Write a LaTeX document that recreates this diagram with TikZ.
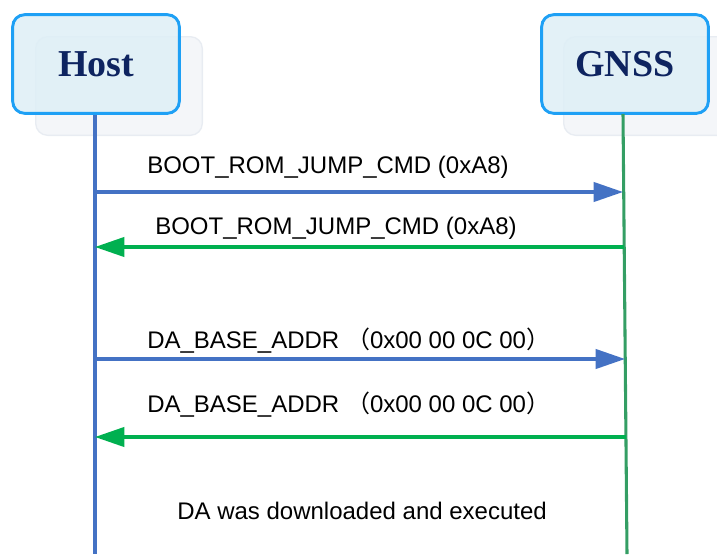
\documentclass[tikz,border=0pt]{standalone}
\usepackage{fontspec}
\setmainfont{Liberation Sans}
\newfontfamily\titlefont{Liberation Serif}
\newfontfamily\cjkfont{Noto Sans CJK SC}
\usepackage{tikz}
\usetikzlibrary{arrows.meta,positioning}
\definecolor{boxblue}{RGB}{30,160,245}
\definecolor{boxfill}{RGB}{222,239,246}
\definecolor{shadefill}{RGB}{244,246,249}
\definecolor{shadeline}{RGB}{232,236,242}
\definecolor{titlenavy}{RGB}{14,36,96}
\definecolor{hostblue}{RGB}{68,114,196}
\definecolor{gnssgreen}{RGB}{52,158,100}
\definecolor{replygreen}{RGB}{0,176,80}
\newcommand{\lpar}{{\cjkfont （}}
\newcommand{\rpar}{{\cjkfont ）}}

\begin{document}
\begin{tikzpicture}[
        x=0.75pt, y=-0.75pt,
        font=\fontsize{18}{21}\selectfont,
        actor/.style={rectangle, rounded corners=9pt, draw=boxblue, line width=2.2pt, fill=boxfill, fill opacity=0.85, text opacity=1,
            minimum width=125pt, minimum height=74pt, font=\titlefont\bfseries\fontsize{28.5}{32}\selectfont, text=titlenavy},
        actorshade/.style={rectangle, rounded corners=9pt, draw=shadeline, line width=1pt, fill=shadefill, minimum width=125pt, minimum height=74pt},
        life/.style={line width=2.3pt},
        msg/.style={-{Triangle[length=22pt,width=14.5pt]}, line width=2.3pt},
        lbl/.style={anchor=west, inner sep=0pt}
    ]
        \useasboundingbox (0,0) rectangle (717,554);

        % shadows behind the boxes
        \node[actorshade] (hostshade) at (119,86) {};
        \node[actorshade] (gnssshade) at (647,86) {};
        \node[actor] (host) at (96,64) {Host};
        \node[actor] (gnss) at (625,64) {GNSS};

        % lifelines
        \coordinate (hostend) at (95,554);
        \coordinate (gnsstop) at (623,114);
        \coordinate (gnssend) at (627,554);
        \draw[life, hostblue] (host.south -| hostend) -- (hostend);
        \draw[life, gnssgreen] (gnsstop) -- (gnssend);

        % message ends
        \coordinate (h1) at (95,192);  \coordinate (g1) at (623,192);
        \coordinate (h2) at (95,247);  \coordinate (g2) at (624,247);
        \coordinate (h3) at (95,359);  \coordinate (g3) at (625,359);
        \coordinate (h4) at (95,437);  \coordinate (g4) at (626,437);

        \draw[msg, hostblue] (h1) -- (g1);
        \node[lbl] (m1) at (147,167) {BOOT\_ROM\_JUMP\_CMD (0xA8)};
        \draw[msg, replygreen] (g2) -- (h2);
        \node[lbl] (m2) at (155,228) {BOOT\_ROM\_JUMP\_CMD (0xA8)};
        \draw[msg, hostblue] (h3) -- (g3);
        \node[lbl] (m3) at (147,341) {DA\_BASE\_ADDR \lpar 0x00 00 0C 00\rpar};
        \draw[msg, replygreen] (g4) -- (h4);
        \node[lbl] (m4) at (147,405) {DA\_BASE\_ADDR \lpar 0x00 00 0C 00\rpar};

        \node[lbl] (done) at (177,511) {DA was downloaded and executed};
    \end{tikzpicture}
\end{document}
